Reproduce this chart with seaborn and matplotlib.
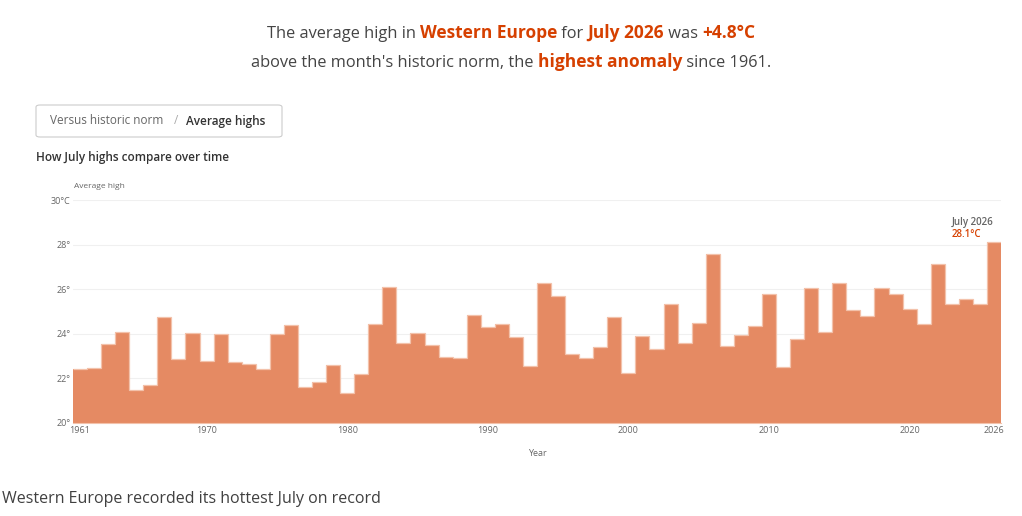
import numpy as np
import pandas as pd
import seaborn as sns
import matplotlib.pyplot as plt
from matplotlib.offsetbox import TextArea, HPacker, AnchoredOffsetbox
from matplotlib.patches import FancyBboxPatch

years = list(range(1961, 2027))
highs = [22.4, 22.45, 23.55, 24.1, 21.5, 21.7, 24.75, 22.85, 24.05, 22.8,
         24.0, 22.75, 22.65, 22.4, 24.0, 24.4, 21.6, 21.85, 22.6, 21.35,
         22.2, 24.45, 26.1, 23.6, 24.05, 23.5, 22.95, 22.9, 24.85, 24.3,
         24.45, 23.85, 22.55, 26.3, 25.7, 23.1, 22.9, 23.4, 24.75, 22.25,
         23.9, 23.3, 25.35, 23.6, 24.5, 27.6, 23.45, 23.95, 24.35, 25.8,
         22.5, 23.75, 26.05, 24.1, 26.3, 25.05, 24.8, 26.05, 25.8, 25.1,
         24.45, 27.15, 25.35, 25.55, 25.35, 28.1]
tick_years = [1961, 1970, 1980, 1990, 2000, 2010, 2020, 2026]
y_ticks = [20, 22, 24, 26, 28, 30]
y_labels = ["20°", "22°", "24°", "26°", "28°", "30°C"]

orange = "#e58a63"
outline = "#f3c2ab"
accent = "#d64000"
dark = "#333333"
grey = "#666666"

sns.set_theme(style="white")
plt.rcParams['font.family'] = ['Open Sans', 'DejaVu Sans']

df = pd.DataFrame({"year": years, "high": highs})

fig = plt.figure(figsize=(10.22, 5.16), dpi=100)
ax = fig.add_axes([73 / 1022, 1 - 423 / 516, 928 / 1022, 223 / 516])

sns.barplot(data=df, x="year", y="high", color=orange, width=1.0,
            linewidth=0, saturation=1, ax=ax, zorder=2)
# light outline along the top of the bars
ax.stairs(highs, np.arange(len(years) + 1) - 0.5, baseline=None,
          color=outline, lw=0.9, zorder=3)

ax.set_ylim(20, 30)
ax.set_xlim(-0.5, len(years) - 0.5)
ax.set_yticks(y_ticks)
ax.set_yticklabels(y_labels, fontsize=6.5, color=grey)
ax.set_xticks([years.index(y) for y in tick_years])
ax.set_xticklabels([str(y) for y in tick_years], fontsize=6.5, color=grey)
ax.tick_params(axis="both", length=0, pad=2)
for yv in y_ticks[1:]:
    ax.axhline(yv, color="#f0f0f0", lw=0.8, zorder=0)
for s in ["top", "right", "left"]:
    ax.spines[s].set_visible(False)
ax.spines["bottom"].set_color(outline)
ax.spines["bottom"].set_linewidth(0.8)
ax.set_xlabel("Year", fontsize=6.5, color=grey, labelpad=10)
ax.set_ylabel("")

# annotation on last bar
ax.text(62.0, 29.0, "July 2026", fontsize=7, color=grey,
        fontweight="semibold", ha="left", va="center", clip_on=False)
ax.text(62.0, 28.47, "28.1°C", fontsize=7, color=accent,
        fontweight="semibold", ha="left", va="center", clip_on=False)

fig.text(74 / 1022, 1 - 186 / 516, "Average high", fontsize=6, color=grey,
         ha="left", va="center")
fig.text(36 / 1022, 1 - 158 / 516, "How July highs compare over time",
         fontsize=8.5, color=dark, fontweight="semibold", ha="left", va="center")

# toggle box
box = FancyBboxPatch((36 / 1022, 1 - 137 / 516), 246 / 1022, 32 / 516,
                     boxstyle="round,pad=0,rounding_size=0.004",
                     transform=fig.transFigure, facecolor="white",
                     edgecolor="#cccccc", lw=0.8)
fig.patches.append(box)
fig.text(50 / 1022, 1 - 121 / 516, "Versus historic norm", fontsize=8.5,
         color=grey, ha="left", va="center")
fig.text(174 / 1022, 1 - 121 / 516, "/", fontsize=8.5, color="#aaaaaa",
         ha="left", va="center")
fig.text(186 / 1022, 1 - 121 / 516, "Average highs", fontsize=8.5,
         color=dark, fontweight="semibold", ha="left", va="center")


def title_line(parts, ycenter):
    kids = []
    for txt, bold in parts:
        kids.append(TextArea(txt, textprops=dict(
            fontsize=12.5 if bold else 11.8,
            color=accent if bold else "#444444",
            fontweight="bold" if bold else "normal")))
    pack = HPacker(children=kids, align="baseline", pad=0, sep=0)
    anc = AnchoredOffsetbox(loc="center", child=pack, frameon=False,
                            bbox_to_anchor=(0.5, ycenter),
                            bbox_transform=fig.transFigure, pad=0, borderpad=0)
    fig.add_artist(anc)


title_line([("The average high in ", False), ("Western Europe", True),
            (" for ", False), ("July 2026", True), (" was ", False),
            ("+4.8°C", True)], 1 - 33 / 516)
title_line([("above the month's historic norm, the ", False),
            ("highest anomaly", True), (" since 1961.", False)], 1 - 62 / 516)

fig.text(2 / 1022, 1 - 499 / 516,
         "Western Europe recorded its hottest July on record",
         fontsize=11.5, color="#404040", ha="left", va="center")

fig.savefig("out.png", dpi=100, facecolor="white")
